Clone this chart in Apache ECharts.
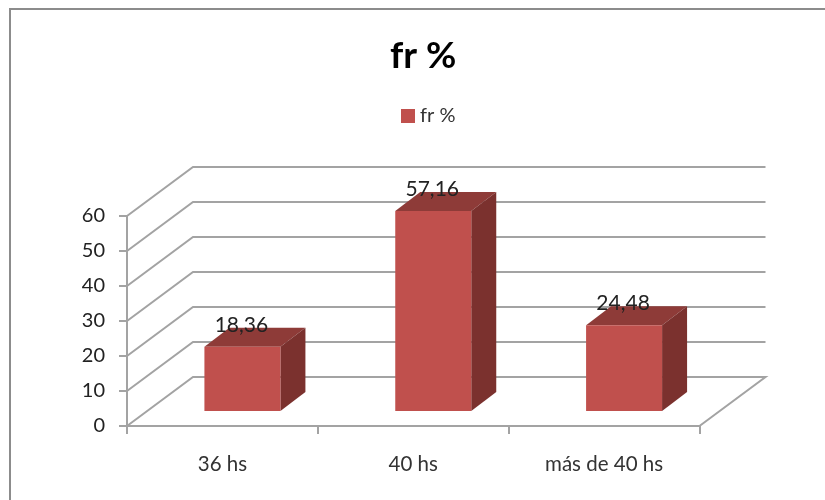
<!DOCTYPE html>
<html>
<head>
<meta charset="utf-8">
<style>html,body{margin:0;padding:0;background:#fff}#c{width:825px;height:500px}</style>
<script src="https://cdn.jsdelivr.net/npm/echarts@6/dist/echarts.min.js"></script>
</head>
<body>
<div id="c"></div>
<script>
var categories = ['36 hs', '40 hs', 'más de 40 hs'];
var values = [18.36, 57.16, 24.48];
var yTicks = [0, 10, 20, 30, 40, 50, 60];
var seriesName = 'fr %';

var FONT = 'Lato';
var GRAY = '#a3a3a3';
var WALL_DX = 66, WALL_DY = -49;
var BAR_DX = 20, BAR_DY = -15, DEPTH_DX = 25, DEPTH_DY = -19;
var BAR_W = 76;

var chart = echarts.init(document.getElementById('c'), null, {renderer: 'canvas'});
chart.setOption({
  animation: false,
  backgroundColor: '#fff',
  title: {
    text: seriesName, left: 385, top: 33,
    textStyle: {fontFamily: FONT, fontSize: 37, fontWeight: 'bold', color: '#000'}
  },
  legend: {
    left: 396, top: 101, itemWidth: 14, itemHeight: 14, itemGap: 5,
    icon: 'rect', data: [seriesName],
    textStyle: {fontFamily: FONT, fontSize: 20, color: '#333'}
  },
  grid: {left: 127, right: 125.5, top: 216, bottom: 74},
  xAxis: {
    type: 'category', data: categories, boundaryGap: true,
    axisLine: {lineStyle: {color: GRAY, width: 2}},
    axisTick: {show: true, alignWithLabel: false, length: 8, lineStyle: {color: GRAY, width: 2}},
    axisLabel: {fontFamily: FONT, fontSize: 20.5, color: '#333', margin: 28},
    splitLine: {show: false}
  },
  yAxis: {
    type: 'value', min: 0, max: 60, interval: 10,
    axisLine: {show: true, lineStyle: {color: GRAY, width: 2}},
    axisTick: {show: true, length: 8, lineStyle: {color: GRAY, width: 2}},
    axisLabel: {fontFamily: FONT, fontSize: 20, color: '#222', margin: 22, padding: [3, 0, 0, 0]},
    splitLine: {show: false}
  },
  graphic: [
    {type: 'polyline', silent: true, z: 0,
     shape: {points: [[10, 500], [10, 9], [825, 9]]},
     style: {stroke: '#8c8c8c', lineWidth: 2, fill: null}}
  ],
  series: [
    {
      type: 'custom', name: 'wall', coordinateSystem: 'cartesian2d', silent: true, z: 1,
      encode: {y: 0},
      data: yTicks.map(function (v) { return [v]; }),
      renderItem: function (params, api) {
        var cs = params.coordSys;
        var v = api.value(0);
        var y = api.coord([categories[0], v])[1];
        var pts = [[cs.x, y], [cs.x + WALL_DX, y + WALL_DY], [cs.x + cs.width + WALL_DX, y + WALL_DY]];
        if (v === 0) pts.push([cs.x + cs.width, y]);
        return {type: 'polyline', shape: {points: pts}, style: {stroke: GRAY, lineWidth: 2, fill: null}};
      }
    },
    {
      type: 'custom', name: seriesName, coordinateSystem: 'cartesian2d', silent: true, z: 2,
      itemStyle: {color: '#c0504d'},
      encode: {x: 0, y: 1},
      data: categories.map(function (c, i) { return [c, values[i]]; }),
      renderItem: function (params, api) {
        var top = api.coord([params.dataIndex, api.value(1)]);
        var base = api.coord([params.dataIndex, 0]);
        var xl = top[0] - BAR_W / 2 + BAR_DX, xr = xl + BAR_W;
        var yt = top[1] + BAR_DY, yb = base[1] + BAR_DY;
        var label = api.value(1).toFixed(2).replace('.', ',');
        return {
          type: 'group',
          children: [
            {type: 'polygon', shape: {points: [[xl, yt], [xr, yt], [xr + DEPTH_DX, yt + DEPTH_DY], [xl + DEPTH_DX, yt + DEPTH_DY]]},
             style: {fill: '#8e3b38'}},
            {type: 'polygon', shape: {points: [[xr, yt], [xr + DEPTH_DX, yt + DEPTH_DY], [xr + DEPTH_DX, yb + DEPTH_DY], [xr, yb]]},
             style: {fill: '#7b312e'}},
            {type: 'rect', shape: {x: xl, y: yt, width: BAR_W, height: yb - yt},
             style: {fill: '#c0504d'}},
            {type: 'text', x: xl + BAR_W / 2 - 1, y: yt - 22,
             style: {text: label, fontFamily: FONT, fontSize: 21, fill: '#222', align: 'center', verticalAlign: 'middle'}}
          ]
        };
      }
    }
  ]
});
</script>
</body>
</html>
